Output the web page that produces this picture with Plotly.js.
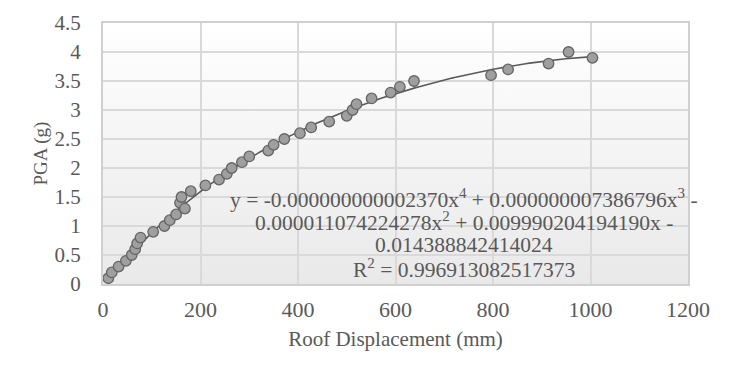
<!DOCTYPE html>
<html>
<head>
<meta charset="utf-8">
<script src="https://cdn.plot.ly/plotly-3.0.1.min.js"></script>
<style>html,body{margin:0;padding:0;background:#fff;}#chart{width:733px;height:378px;}</style>
</head>
<body>
<div id="chart"></div>
<script>
// Observed points: roof displacement (mm) vs PGA (g)
const roofDisplacement = [11, 18, 32, 47, 59, 66, 70, 77, 103, 126, 137, 150, 158, 161, 168, 180, 210, 238, 254, 264, 285, 300, 339, 350, 372, 404, 427, 464, 500, 512, 520, 551, 590, 609, 638, 796, 831, 914, 955, 1004];
const pga = [0.1, 0.2, 0.3, 0.4, 0.5, 0.6, 0.7, 0.8, 0.9, 1.0, 1.1, 1.2, 1.4, 1.5, 1.3, 1.6, 1.7, 1.8, 1.9, 2.0, 2.1, 2.2, 2.3, 2.4, 2.5, 2.6, 2.7, 2.8, 2.9, 3.0, 3.1, 3.2, 3.3, 3.4, 3.5, 3.6, 3.7, 3.8, 4.0, 3.9];

// Polynomial trendline coefficients as printed on the chart (x^4 .. x^0)
const trendCoefficients = [-0.000000000002370, 0.000000007386796, -0.000011074224278, 0.009990204194190, -0.014388842414024];
const equationLines = [
  "y = -0.000000000002370x<sup>4</sup> + 0.000000007386796x<sup>3</sup> -",
  "0.000011074224278x<sup>2</sup> + 0.009990204194190x -",
  "0.014388842414024",
  "R<sup>2</sup> = 0.996913082517373"
];
const xTitle = "Roof Displacement (mm)";
const yTitle = "PGA (g)";

// Trendline evaluated from the printed equation over the data span
const xMin = Math.min(...roofDisplacement), xMax = Math.max(...roofDisplacement);
const trendX = [], trendY = [];
for (let i = 0; i <= 200; i++) {
  const x = xMin + (xMax - xMin) * i / 200;
  let y = 0;
  for (const c of trendCoefficients) y = y * x + c;
  trendX.push(x); trendY.push(y);
}

const FONT = "Liberation Serif, Times New Roman, serif";
const TXT = "#595959";

const gradSvg = '<svg xmlns="http://www.w3.org/2000/svg" width="100" height="100" preserveAspectRatio="none">' +
  '<defs><linearGradient id="g" x1="0" y1="0" x2="0" y2="1">' +
  '<stop offset="0" stop-color="#ffffff"/><stop offset="1" stop-color="#e9e9e9"/></linearGradient></defs>' +
  '<rect width="100" height="100" fill="url(#g)"/></svg>';
const gradUri = 'data:image/svg+xml;charset=utf-8,' + encodeURIComponent(gradSvg);

const traces = [
  {
    x: trendX, y: trendY, type: 'scatter', mode: 'lines',
    line: {color: '#595959', width: 1.6}, hoverinfo: 'skip', showlegend: false
  },
  {
    x: roofDisplacement, y: pga, type: 'scatter', mode: 'markers',
    marker: {size: 10.5, color: '#9f9f9f', line: {color: '#646464', width: 1.3}},
    showlegend: false
  }
];

const annotations = equationLines.map((t, i) => ({
  text: t, xref: 'paper', yref: 'paper',
  x: (463.5 - 103) / 585, y: 1 - ([198, 221, 244.5, 268][i] - 23) / 261,
  xanchor: 'center', yanchor: 'middle', showarrow: false,
  font: {family: FONT, size: 21.5, color: TXT}
}));

const layout = {
  width: 733, height: 378,
  margin: {l: 103, r: 45, t: 23, b: 94},
  paper_bgcolor: '#ffffff',
  plot_bgcolor: 'rgba(0,0,0,0)',
  font: {family: FONT, size: 22, color: TXT},
  images: [{source: gradUri, xref: 'paper', yref: 'paper', x: 0, y: 1, sizex: 1, sizey: 1,
            sizing: 'stretch', xanchor: 'left', yanchor: 'top', layer: 'below'}],
  xaxis: {
    range: [0, 1200], dtick: 200, tick0: 0, autorange: false,
    showgrid: true, gridcolor: '#d9d9d9', gridwidth: 2,
    showline: true, linecolor: '#d0d0d0', linewidth: 2, mirror: true,
    zeroline: false, ticks: '', ticklabelstandoff: 5,
    tickfont: {family: FONT, size: 22, color: TXT},
    title: {text: xTitle, font: {family: FONT, size: 21, color: TXT}, standoff: 10}
  },
  yaxis: {
    range: [0, 4.5], dtick: 0.5, tick0: 0, autorange: false,
    showgrid: true, gridcolor: '#d9d9d9', gridwidth: 2,
    showline: true, linecolor: '#d0d0d0', linewidth: 2, mirror: true,
    zeroline: false, ticks: '', ticklabelstandoff: 16,
    tickfont: {family: FONT, size: 21, color: TXT},
    title: {text: yTitle, font: {family: FONT, size: 19, color: TXT}, standoff: 2}
  },
  annotations: annotations
};

Plotly.newPlot('chart', traces, layout, {displayModeBar: false, staticPlot: true});
</script>
</body>
</html>
